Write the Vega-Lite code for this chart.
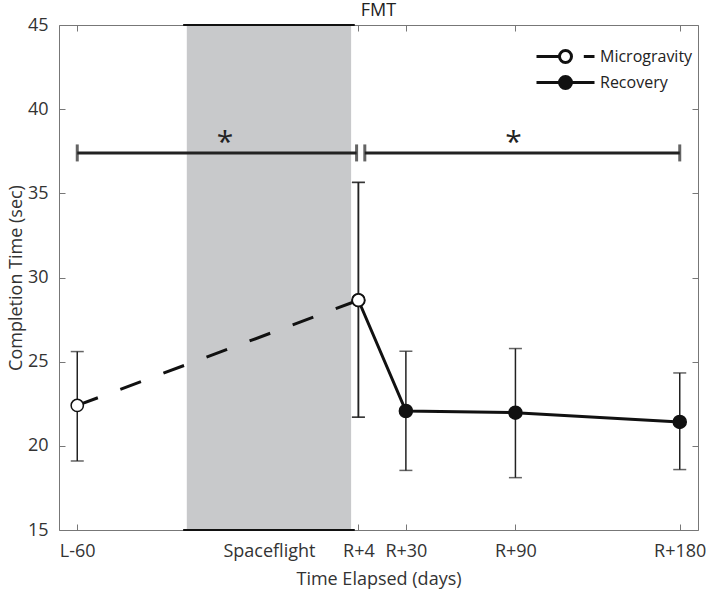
{
  "$schema": "https://vega.github.io/schema/vega-lite/v6.json",
  "width": 639, "height": 505,
  "autosize": "none",
  "padding": {"left": 59, "top": 25, "right": 10, "bottom": 65},
  "title": {"text": "FMT", "fontSize": 18, "fontWeight": "normal", "font": "Open Sans", "color": "#222", "offset": -4},
  "datasets": {
    "pts": [
      {"label": "L-60", "t": -60, "y": 22.4, "lo": 19.1, "hi": 25.6, "series": "Microgravity"},
      {"label": "R+4", "t": 94, "y": 28.65, "lo": 21.7, "hi": 35.65, "series": "Microgravity"},
      {"label": "R+4", "t": 94, "y": 28.65, "lo": 21.7, "hi": 35.65, "series": "Recovery"},
      {"label": "R+30", "t": 120, "y": 22.07, "lo": 18.54, "hi": 25.62, "series": "Recovery"},
      {"label": "R+90", "t": 180, "y": 21.97, "lo": 18.11, "hi": 25.78, "series": "Recovery"},
      {"label": "R+180", "t": 270, "y": 21.42, "lo": 18.59, "hi": 24.33, "series": "Recovery"}
    ],
    "band": [{"start": 0, "end": 90, "lo": 15, "hi": 45}],
    "edges": [{"x": -2, "x2": 92, "y": 45}, {"x": -2, "x2": 92, "y": 15}],
    "brackets": [{"x": -60, "x2": 93, "y": 37.4}, {"x": 97.5, "x2": 270, "y": 37.4}],
    "stars": [{"x": 21, "y": 38.0}, {"x": 179, "y": 38.0}]
  },
  "resolve": {"axis": {"x": "independent", "y": "independent"}},
  "layer": [
    {
      "data": {"name": "band"},
      "mark": {"type": "rect", "color": "#c8c9cb"},
      "encoding": {
        "x": {"field": "start", "type": "quantitative", "scale": {"domain": [-70, 280], "nice": false, "zero": false},
          "axis": {"orient": "bottom", "values": [-60, 45, 94, 120, 180, 270], "title": "Time Elapsed (days)",
            "labelExpr": "datum.value == -60 ? 'L-60' : datum.value == 45 ? 'Spaceflight' : datum.value == 94 ? 'R+4' : datum.value == 120 ? 'R+30' : datum.value == 180 ? 'R+90' : 'R+180'"}},
        "x2": {"field": "end"},
        "y": {"field": "lo", "type": "quantitative", "scale": {"domain": [15, 45], "nice": false, "zero": false},
          "axis": {"orient": "left", "values": [15, 20, 25, 30, 35, 40, 45], "title": "Completion Time (sec)"}},
        "y2": {"field": "hi"}
      }
    },
    {
      "data": {"name": "edges"},
      "mark": {"type": "rule", "color": "#111", "strokeWidth": 2},
      "encoding": {
        "x": {"field": "x", "type": "quantitative",
          "axis": {"orient": "top", "values": [-60, 45, 94, 120, 180, 270], "labels": false, "title": null}},
        "x2": {"field": "x2"},
        "y": {"field": "y", "type": "quantitative",
          "axis": {"orient": "right", "values": [15, 20, 25, 30, 35, 40, 45], "labels": false, "title": null}}
      }
    },
    {
      "data": {"name": "pts"},
      "mark": {"type": "point", "filled": true, "strokeWidth": 3, "opacity": 0},
      "encoding": {
        "x": {"field": "t", "type": "quantitative", "axis": null},
        "y": {"field": "y", "type": "quantitative", "axis": null},
        "fill": {"field": "series", "type": "nominal", "title": null,
          "scale": {"domain": ["Microgravity", "Recovery"], "range": ["#ffffff", "#111111"]}},
        "stroke": {"field": "series", "type": "nominal", "title": null,
          "scale": {"domain": ["Microgravity", "Recovery"], "range": ["#111111", "#111111"]}},
        "shape": {"field": "series", "type": "nominal", "title": null,
          "scale": {"domain": ["Microgravity", "Recovery"],
            "range": [
              "M-2.9,0L-0.6,0M1.83,0L2.9,0M0.6,0A0.6,0.6,0,1,1,-0.6,0A0.6,0.6,0,1,1,0.6,0Z",
              "M-2.9,0L2.9,0M0.6,0A0.6,0.6,0,1,1,-0.6,0A0.6,0.6,0,1,1,0.6,0Z"
            ]}}
      }
    },
    {
      "data": {"name": "pts"},
      "mark": {"type": "rule", "color": "#222", "strokeWidth": 1.5},
      "encoding": {
        "x": {"field": "t", "type": "quantitative", "axis": null},
        "y": {"field": "lo", "type": "quantitative", "axis": null},
        "y2": {"field": "hi"}
      }
    },
    {
      "data": {"name": "pts"},
      "transform": [{"fold": ["lo", "hi"], "as": ["end", "v"]}],
      "mark": {"type": "tick", "orient": "horizontal", "color": "#222", "size": 13, "thickness": 1.5},
      "encoding": {
        "x": {"field": "t", "type": "quantitative", "axis": null},
        "y": {"field": "v", "type": "quantitative", "axis": null}
      }
    },
    {
      "data": {"name": "pts"},
      "transform": [{"filter": "datum.series == 'Recovery'"}],
      "mark": {"type": "line", "color": "#111", "strokeWidth": 3},
      "encoding": {
        "x": {"field": "t", "type": "quantitative", "axis": null},
        "y": {"field": "y", "type": "quantitative", "axis": null}
      }
    },
    {
      "data": {"name": "pts"},
      "transform": [{"filter": "datum.series == 'Microgravity'"}],
      "mark": {"type": "line", "color": "#111", "strokeWidth": 3, "strokeDash": [22, 24]},
      "encoding": {
        "x": {"field": "t", "type": "quantitative", "axis": null},
        "y": {"field": "y", "type": "quantitative", "axis": null}
      }
    },
    {
      "data": {"name": "pts"},
      "transform": [{"filter": "datum.series == 'Recovery'"}],
      "mark": {"type": "circle", "size": 170, "fill": "#111", "stroke": "#111", "strokeWidth": 1.5, "opacity": 1},
      "encoding": {
        "x": {"field": "t", "type": "quantitative", "axis": null},
        "y": {"field": "y", "type": "quantitative", "axis": null}
      }
    },
    {
      "data": {"name": "pts"},
      "transform": [{"filter": "datum.series == 'Microgravity'"}],
      "mark": {"type": "circle", "size": 150, "fill": "#ffffff", "stroke": "#111", "strokeWidth": 1.5, "opacity": 1},
      "encoding": {
        "x": {"field": "t", "type": "quantitative", "axis": null},
        "y": {"field": "y", "type": "quantitative", "axis": null}
      }
    },
    {
      "data": {"name": "brackets"},
      "mark": {"type": "rule", "color": "#222", "strokeWidth": 3},
      "encoding": {
        "x": {"field": "x", "type": "quantitative", "axis": null},
        "x2": {"field": "x2"},
        "y": {"field": "y", "type": "quantitative", "axis": null}
      }
    },
    {
      "data": {"name": "brackets"},
      "transform": [{"fold": ["x", "x2"], "as": ["end", "xpos"]}],
      "mark": {"type": "tick", "orient": "vertical", "color": "#222", "size": 17, "thickness": 3},
      "encoding": {
        "x": {"field": "xpos", "type": "quantitative", "axis": null},
        "y": {"field": "y", "type": "quantitative", "axis": null}
      }
    },
    {
      "data": {"name": "stars"},
      "mark": {"type": "text", "text": "*", "fontSize": 30, "font": "Open Sans", "color": "#222", "baseline": "middle"},
      "encoding": {
        "x": {"field": "x", "type": "quantitative", "axis": null},
        "y": {"field": "y", "type": "quantitative", "axis": null}
      }
    }
  ],
  "config": {
    "view": {"stroke": "#777", "strokeWidth": 1},
    "axis": {
      "domain": false, "grid": false, "tickSize": -6, "tickColor": "#777", "tickWidth": 1,
      "labelFont": "Open Sans", "labelFontSize": 18, "labelColor": "#333",
      "titleFont": "Open Sans", "titleFontSize": 18, "titleFontWeight": "normal", "titleColor": "#333"
    },
    "axisBottom": {"labelPadding": 18, "titlePadding": 10},
    "axisLeft": {"labelPadding": 17, "titlePadding": 2},
    "legend": {
      "orient": "none", "legendX": 495, "legendY": 20,
      "labelFont": "Open Sans", "labelFontSize": 16, "labelColor": "#222",
      "symbolSize": 400, "symbolStrokeWidth": 3, "symbolOpacity": 1,
      "labelOffset": 23, "rowPadding": 1
    }
  }
}
